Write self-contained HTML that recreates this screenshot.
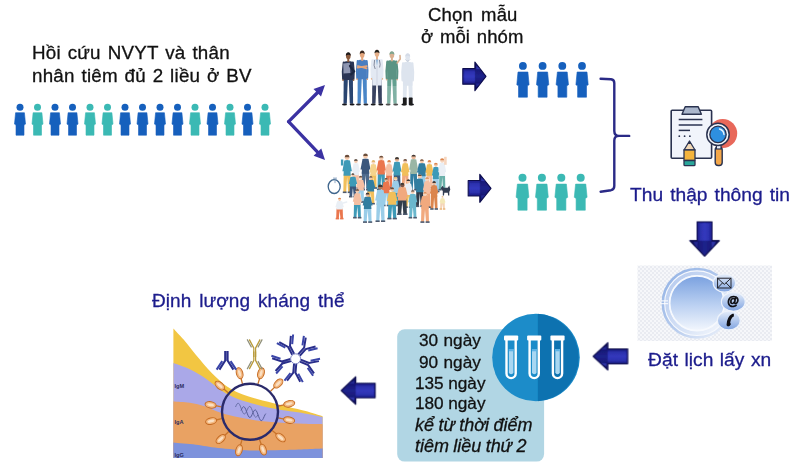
<!DOCTYPE html>
<html lang="vi"><head><meta charset="utf-8"><title>Sơ đồ nghiên cứu</title>
<style>
html,body{margin:0;padding:0;background:#fff;}
body{width:800px;height:464px;position:relative;overflow:hidden;font-family:"Liberation Sans",sans-serif;}
svg{position:absolute;left:0;top:0;}
.t{position:absolute;white-space:nowrap;line-height:1;font-family:"Liberation Sans",sans-serif;will-change:transform;-webkit-text-stroke:0.3px currentColor;filter:blur(0.3px);}
</style></head><body>
<svg width="800" height="464" viewBox="0 0 800 464">
<defs>
<linearGradient id="gaH" x1="0" y1="0" x2="0" y2="1"><stop offset="0" stop-color="#0b0b4c"/><stop offset="0.2" stop-color="#1d1f8c"/><stop offset="0.5" stop-color="#2e33b6"/><stop offset="0.8" stop-color="#1a1c84"/><stop offset="1" stop-color="#090940"/></linearGradient>
<linearGradient id="gaV" x1="0" y1="0" x2="1" y2="0"><stop offset="0" stop-color="#0b0b4c"/><stop offset="0.2" stop-color="#1d1f8c"/><stop offset="0.5" stop-color="#2e33b6"/><stop offset="0.8" stop-color="#1a1c84"/><stop offset="1" stop-color="#090940"/></linearGradient>
<linearGradient id="gBig" x1="0" y1="0" x2="0" y2="1"><stop offset="0" stop-color="#7aa1e0"/><stop offset="0.55" stop-color="#bdd2f2"/><stop offset="1" stop-color="#f2f6fd"/></linearGradient>
<linearGradient id="gRing" x1="0" y1="0" x2="1" y2="1"><stop offset="0" stop-color="#8fb0e4"/><stop offset="0.55" stop-color="#b9cdee"/><stop offset="1" stop-color="#f3f6fc"/></linearGradient>
<linearGradient id="gRing2" x1="0" y1="0" x2="1" y2="1"><stop offset="0" stop-color="#b4c9ee"/><stop offset="0.6" stop-color="#d6e2f6"/><stop offset="1" stop-color="#f7f9fd"/></linearGradient>
<linearGradient id="gSm" x1="0" y1="0" x2="0" y2="1"><stop offset="0" stop-color="#e6eefa"/><stop offset="1" stop-color="#7fa3e0"/></linearGradient>
<pattern id="chk" width="4" height="4" patternUnits="userSpaceOnUse"><rect width="4" height="4" fill="#f6f7fa"/><rect width="2" height="2" fill="#e9ebf1"/><rect x="2" y="2" width="2" height="2" fill="#e9ebf1"/></pattern>
<filter id="soft" x="-10%" y="-10%" width="120%" height="120%"><feGaussianBlur stdDeviation="0.45"/></filter>
<filter id="soft2" x="-10%" y="-10%" width="120%" height="120%"><feGaussianBlur stdDeviation="0.7"/></filter>
</defs>
<g filter="url(#soft)">
<circle cx="20.0" cy="107.2" r="3.5" fill="#1560bd"/><polygon points="15.6,112.7 24.4,112.7 25.5,124.1 24.0,125.0 24.0,135.2 16.0,135.2 16.0,125.0 14.5,124.1" fill="#1560bd" stroke="#1560bd" stroke-width="0.6" stroke-linejoin="round"/>
<circle cx="37.5" cy="107.2" r="3.5" fill="#3bb9b4"/><polygon points="33.1,112.7 41.9,112.7 43.0,124.1 41.5,125.0 41.5,135.2 33.5,135.2 33.5,125.0 32.0,124.1" fill="#3bb9b4" stroke="#3bb9b4" stroke-width="0.6" stroke-linejoin="round"/>
<circle cx="55.0" cy="107.2" r="3.5" fill="#1560bd"/><polygon points="50.6,112.7 59.4,112.7 60.5,124.1 59.0,125.0 59.0,135.2 51.0,135.2 51.0,125.0 49.5,124.1" fill="#1560bd" stroke="#1560bd" stroke-width="0.6" stroke-linejoin="round"/>
<circle cx="72.5" cy="107.2" r="3.5" fill="#1560bd"/><polygon points="68.1,112.7 76.9,112.7 78.0,124.1 76.5,125.0 76.5,135.2 68.5,135.2 68.5,125.0 67.0,124.1" fill="#1560bd" stroke="#1560bd" stroke-width="0.6" stroke-linejoin="round"/>
<circle cx="90.0" cy="107.2" r="3.5" fill="#3bb9b4"/><polygon points="85.6,112.7 94.4,112.7 95.5,124.1 94.0,125.0 94.0,135.2 86.0,135.2 86.0,125.0 84.5,124.1" fill="#3bb9b4" stroke="#3bb9b4" stroke-width="0.6" stroke-linejoin="round"/>
<circle cx="107.5" cy="107.2" r="3.5" fill="#3bb9b4"/><polygon points="103.1,112.7 111.9,112.7 113.0,124.1 111.5,125.0 111.5,135.2 103.5,135.2 103.5,125.0 102.0,124.1" fill="#3bb9b4" stroke="#3bb9b4" stroke-width="0.6" stroke-linejoin="round"/>
<circle cx="125.0" cy="107.2" r="3.5" fill="#1560bd"/><polygon points="120.6,112.7 129.4,112.7 130.5,124.1 129.0,125.0 129.0,135.2 121.0,135.2 121.0,125.0 119.5,124.1" fill="#1560bd" stroke="#1560bd" stroke-width="0.6" stroke-linejoin="round"/>
<circle cx="142.5" cy="107.2" r="3.5" fill="#1560bd"/><polygon points="138.1,112.7 146.9,112.7 148.0,124.1 146.5,125.0 146.5,135.2 138.5,135.2 138.5,125.0 137.0,124.1" fill="#1560bd" stroke="#1560bd" stroke-width="0.6" stroke-linejoin="round"/>
<circle cx="160.0" cy="107.2" r="3.5" fill="#1560bd"/><polygon points="155.6,112.7 164.4,112.7 165.5,124.1 164.0,125.0 164.0,135.2 156.0,135.2 156.0,125.0 154.5,124.1" fill="#1560bd" stroke="#1560bd" stroke-width="0.6" stroke-linejoin="round"/>
<circle cx="177.5" cy="107.2" r="3.5" fill="#1560bd"/><polygon points="173.1,112.7 181.9,112.7 183.0,124.1 181.5,125.0 181.5,135.2 173.5,135.2 173.5,125.0 172.0,124.1" fill="#1560bd" stroke="#1560bd" stroke-width="0.6" stroke-linejoin="round"/>
<circle cx="195.0" cy="107.2" r="3.5" fill="#3bb9b4"/><polygon points="190.6,112.7 199.4,112.7 200.5,124.1 199.0,125.0 199.0,135.2 191.0,135.2 191.0,125.0 189.5,124.1" fill="#3bb9b4" stroke="#3bb9b4" stroke-width="0.6" stroke-linejoin="round"/>
<circle cx="212.5" cy="107.2" r="3.5" fill="#1560bd"/><polygon points="208.1,112.7 216.9,112.7 218.0,124.1 216.5,125.0 216.5,135.2 208.5,135.2 208.5,125.0 207.0,124.1" fill="#1560bd" stroke="#1560bd" stroke-width="0.6" stroke-linejoin="round"/>
<circle cx="230.0" cy="107.2" r="3.5" fill="#3bb9b4"/><polygon points="225.6,112.7 234.4,112.7 235.5,124.1 234.0,125.0 234.0,135.2 226.0,135.2 226.0,125.0 224.5,124.1" fill="#3bb9b4" stroke="#3bb9b4" stroke-width="0.6" stroke-linejoin="round"/>
<circle cx="247.5" cy="107.2" r="3.5" fill="#1560bd"/><polygon points="243.1,112.7 251.9,112.7 253.0,124.1 251.5,125.0 251.5,135.2 243.5,135.2 243.5,125.0 242.0,124.1" fill="#1560bd" stroke="#1560bd" stroke-width="0.6" stroke-linejoin="round"/>
<circle cx="265.0" cy="107.2" r="3.5" fill="#3bb9b4"/><polygon points="260.6,112.7 269.4,112.7 270.5,124.1 269.0,125.0 269.0,135.2 261.0,135.2 261.0,125.0 259.5,124.1" fill="#3bb9b4" stroke="#3bb9b4" stroke-width="0.6" stroke-linejoin="round"/>
<circle cx="522.9" cy="65.9" r="3.9" fill="#1560bd"/><polygon points="518.0,72.0 527.9,72.0 529.1,84.8 527.4,85.8 527.4,97.2 518.5,97.2 518.5,85.8 516.8,84.8" fill="#1560bd" stroke="#1560bd" stroke-width="0.6" stroke-linejoin="round"/>
<circle cx="542.6" cy="65.9" r="3.9" fill="#1560bd"/><polygon points="537.7,72.0 547.6,72.0 548.8,84.8 547.1,85.8 547.1,97.2 538.2,97.2 538.2,85.8 536.5,84.8" fill="#1560bd" stroke="#1560bd" stroke-width="0.6" stroke-linejoin="round"/>
<circle cx="562.3" cy="65.9" r="3.9" fill="#1560bd"/><polygon points="557.4,72.0 567.2,72.0 568.5,84.8 566.8,85.8 566.8,97.2 557.9,97.2 557.9,85.8 556.1,84.8" fill="#1560bd" stroke="#1560bd" stroke-width="0.6" stroke-linejoin="round"/>
<circle cx="582.0" cy="65.9" r="3.9" fill="#1560bd"/><polygon points="577.1,72.0 587.0,72.0 588.2,84.8 586.5,85.8 586.5,97.2 577.6,97.2 577.6,85.8 575.9,84.8" fill="#1560bd" stroke="#1560bd" stroke-width="0.6" stroke-linejoin="round"/>
<circle cx="522.5" cy="177.7" r="4.0" fill="#3bb9b4"/><polygon points="517.4,184.1 527.6,184.1 528.9,197.3 527.1,198.4 527.1,210.2 517.9,210.2 517.9,198.4 516.1,197.3" fill="#3bb9b4" stroke="#3bb9b4" stroke-width="0.6" stroke-linejoin="round"/>
<circle cx="541.9" cy="177.7" r="4.0" fill="#3bb9b4"/><polygon points="536.8,184.1 547.0,184.1 548.3,197.3 546.5,198.4 546.5,210.2 537.3,210.2 537.3,198.4 535.5,197.3" fill="#3bb9b4" stroke="#3bb9b4" stroke-width="0.6" stroke-linejoin="round"/>
<circle cx="561.3" cy="177.7" r="4.0" fill="#3bb9b4"/><polygon points="556.2,184.1 566.4,184.1 567.7,197.3 565.9,198.4 565.9,210.2 556.7,210.2 556.7,198.4 554.9,197.3" fill="#3bb9b4" stroke="#3bb9b4" stroke-width="0.6" stroke-linejoin="round"/>
<circle cx="580.7" cy="177.7" r="4.0" fill="#3bb9b4"/><polygon points="575.6,184.1 585.8,184.1 587.1,197.3 585.3,198.4 585.3,210.2 576.1,210.2 576.1,198.4 574.3,197.3" fill="#3bb9b4" stroke="#3bb9b4" stroke-width="0.6" stroke-linejoin="round"/>
</g>
<g filter="url(#soft)">
<line x1="288.6" y1="121.7" x2="320.1" y2="90.0" stroke="#3a30a2" stroke-width="3.3" stroke-linecap="round"/>
<polygon points="325.0,85.0 321.0,96.5 313.5,89.1" fill="#3a30a2"/>
<line x1="288.6" y1="121.7" x2="320.2" y2="154.9" stroke="#3a30a2" stroke-width="3.3" stroke-linecap="round"/>
<polygon points="325.0,160.0 313.6,155.7 321.3,148.4" fill="#3a30a2"/>
</g>
<g filter="url(#soft)">
<g transform="translate(462.8,76.4) rotate(0)"><polygon points="0,-7.75 12.1,-7.75 12.1,-14.3 23.2,0 12.1,14.3 12.1,7.75 0,7.75" fill="url(#gaH)" stroke="#10104e" stroke-width="1.1" stroke-linejoin="round"/><rect x="1.8" y="-5.2" width="11.1" height="10.3" fill="#3c44cc" opacity="0.35"/><polygon points="12.1,-14.3 23.2,0 12.1,14.3" fill="#0c0c50" opacity="0.42"/><polygon points="13.5,-10.9 17.6,-7.2 13.5,-7.2" fill="#4a54dc" opacity="0.5"/><polygon points="13.5,10.9 17.6,7.2 13.5,7.2" fill="#3a42c4" opacity="0.4"/></g>
<g transform="translate(468.2,188.3) rotate(0)"><polygon points="0,-7.75 11.600000000000001,-7.75 11.600000000000001,-14.05 22.8,0 11.600000000000001,14.05 11.600000000000001,7.75 0,7.75" fill="url(#gaH)" stroke="#10104e" stroke-width="1.1" stroke-linejoin="round"/><rect x="1.8" y="-5.2" width="10.6" height="10.3" fill="#3c44cc" opacity="0.35"/><polygon points="11.600000000000001,-14.05 22.8,0 11.600000000000001,14.05" fill="#0c0c50" opacity="0.42"/><polygon points="13.0,-10.7 17.2,-7.0 13.0,-7.2" fill="#4a54dc" opacity="0.5"/><polygon points="13.0,10.7 17.2,7.0 13.0,7.2" fill="#3a42c4" opacity="0.4"/></g>
<g transform="translate(704.6,221.9) rotate(90)"><polygon points="0,-7.45 18.699999999999996,-7.45 18.699999999999996,-14.75 34.3,0 18.699999999999996,14.75 18.699999999999996,7.45 0,7.45" fill="url(#gaH)" stroke="#10104e" stroke-width="1.1" stroke-linejoin="round"/><rect x="1.8" y="-4.8" width="17.7" height="9.7" fill="#3c44cc" opacity="0.35"/><polygon points="18.699999999999996,-14.75 34.3,0 18.699999999999996,14.75" fill="#0c0c50" opacity="0.42"/><polygon points="20.1,-11.3 26.5,-7.4 20.1,-7.0" fill="#4a54dc" opacity="0.5"/><polygon points="20.1,11.3 26.5,7.4 20.1,7.0" fill="#3a42c4" opacity="0.4"/></g>
<g transform="translate(627.7,356.4) rotate(180)"><polygon points="0,-7.4 19.9,-7.4 19.9,-13.65 34.5,0 19.9,13.65 19.9,7.4 0,7.4" fill="url(#gaH)" stroke="#10104e" stroke-width="1.1" stroke-linejoin="round"/><rect x="1.8" y="-4.8" width="18.9" height="9.6" fill="#3c44cc" opacity="0.35"/><polygon points="19.9,-13.65 34.5,0 19.9,13.65" fill="#0c0c50" opacity="0.42"/><polygon points="21.3,-10.2 27.2,-6.8 21.3,-6.9" fill="#4a54dc" opacity="0.5"/><polygon points="21.3,10.2 27.2,6.8 21.3,6.9" fill="#3a42c4" opacity="0.4"/></g>
<g transform="translate(375.2,390.6) rotate(180)"><polygon points="0,-7.3 19.4,-7.3 19.4,-13.75 34.0,0 19.4,13.75 19.4,7.3 0,7.3" fill="url(#gaH)" stroke="#10104e" stroke-width="1.1" stroke-linejoin="round"/><rect x="1.8" y="-4.7" width="18.4" height="9.4" fill="#3c44cc" opacity="0.35"/><polygon points="19.4,-13.75 34.0,0 19.4,13.75" fill="#0c0c50" opacity="0.42"/><polygon points="20.8,-10.3 26.7,-6.9 20.8,-6.8" fill="#4a54dc" opacity="0.5"/><polygon points="20.8,10.3 26.7,6.9 20.8,6.8" fill="#3a42c4" opacity="0.4"/></g>
</g>
<path filter="url(#soft)" d="M600.6,78.8 L611,79.2 Q614.3,79.6 614.3,83 L614.3,131 Q614.3,135.9 619,135.9 L629.2,135.9 L619,135.9 Q614.3,135.9 614.3,140.5 L614.3,186 Q614.3,189.5 611,190.2 L600.6,191.7" fill="none" stroke="#2b2a86" stroke-width="2.4" stroke-linecap="round" stroke-linejoin="round"/>
<g filter="url(#soft2)">
<polygon points="347.9,78.0 343.7,78.0 343.5,103.8 346.8,103.8" fill="#2b4470"/><ellipse cx="344.5" cy="104.5" rx="2.5" ry="1.0" fill="#15151a"/><polygon points="348.7,78.0 352.9,78.0 353.1,103.8 349.8,103.8" fill="#2b4470"/><ellipse cx="352.1" cy="104.5" rx="2.5" ry="1.0" fill="#15151a"/><path d="M343.7,62.4 L342.8,71.6 L343.1,79.0" stroke="#2b3654" stroke-width="2.0" fill="none" stroke-linecap="round" stroke-linejoin="round"/><circle cx="343.1" cy="80.1" r="0.9" fill="#8a5a3c"/><path d="M352.9,62.4 L353.8,71.6 L353.5,79.0" stroke="#2b3654" stroke-width="2.0" fill="none" stroke-linecap="round" stroke-linejoin="round"/><circle cx="353.5" cy="80.1" r="0.9" fill="#8a5a3c"/><path d="M343.2,63.1 Q343.2,61.6 346.0,61.2 L350.6,61.2 Q353.4,61.6 353.4,63.1 L352.9,80.0 L343.7,80.0 Z" fill="#2b3654"/><rect x="347.3" y="57.9" width="2.0" height="4.2" fill="#8a5a3c"/><ellipse cx="348.3" cy="56.0" rx="2.3" ry="3.3" fill="#8a5a3c"/><path d="M345.8,55.8 Q345.9,52.4 348.3,52.3 Q350.7,52.4 350.8,55.8 Q348.3,53.7 345.8,55.8 Z" fill="#1e1a1a"/>
<path d="M343.2,63.5 L349.8,62.8 L350.4,73 L343.6,73.6 Z" fill="#8e96b2"/>
<path d="M350,66 L354,71.5 L351,74.5" stroke="#1e2740" stroke-width="2.2" fill="none" stroke-linecap="round"/>
<polygon points="361.8,77.2 357.7,77.2 357.5,103.8 360.7,103.8" fill="#4a86c8"/><ellipse cx="358.5" cy="104.5" rx="2.5" ry="1.0" fill="#2a2a30"/><polygon points="362.6,77.2 366.7,77.2 366.9,103.8 363.7,103.8" fill="#4a86c8"/><ellipse cx="365.9" cy="104.5" rx="2.5" ry="1.0" fill="#2a2a30"/><path d="M357.7,61.0 L356.9,70.5 L357.2,78.2" stroke="#4a7ec0" stroke-width="2.0" fill="none" stroke-linecap="round" stroke-linejoin="round"/><circle cx="357.2" cy="79.2" r="0.9" fill="#e3a57c"/><path d="M366.7,61.0 L367.5,70.5 L367.2,78.2" stroke="#4a7ec0" stroke-width="2.0" fill="none" stroke-linecap="round" stroke-linejoin="round"/><circle cx="367.2" cy="79.2" r="0.9" fill="#e3a57c"/><path d="M357.3,61.7 Q357.3,60.2 360.0,59.8 L364.4,59.8 Q367.1,60.2 367.1,61.7 L366.7,79.2 L357.7,79.2 Z" fill="#4a7ec0"/><rect x="361.2" y="56.4" width="2.0" height="4.4" fill="#e3a57c"/><ellipse cx="362.2" cy="54.4" rx="2.3" ry="3.4" fill="#e3a57c"/><path d="M359.7,54.2 Q359.8,50.7 362.2,50.6 Q364.6,50.7 364.7,54.2 Q362.2,52.0 359.7,54.2 Z" fill="#3a2a22"/>
<path d="M357.6,67.6 L366.8,66.2 M357.8,66.0 L366.6,68.4" stroke="#e3a57c" stroke-width="1.7" stroke-linecap="round"/>
<polygon points="376.6,76.7 372.3,76.7 372.1,103.8 375.5,103.8" fill="#394360"/><ellipse cx="373.2" cy="104.5" rx="2.5" ry="1.0" fill="#1a1a1f"/><polygon points="377.4,76.7 381.7,76.7 381.9,103.8 378.5,103.8" fill="#394360"/><ellipse cx="380.8" cy="104.5" rx="2.5" ry="1.0" fill="#1a1a1f"/><path d="M372.3,60.2 L371.5,69.9 L371.7,77.7" stroke="#e3e9f3" stroke-width="2.0" fill="none" stroke-linecap="round" stroke-linejoin="round"/><circle cx="371.7" cy="78.8" r="0.9" fill="#e5b08a"/><path d="M381.7,60.2 L382.5,69.9 L382.3,77.7" stroke="#e3e9f3" stroke-width="2.0" fill="none" stroke-linecap="round" stroke-linejoin="round"/><circle cx="382.3" cy="78.8" r="0.9" fill="#e5b08a"/><path d="M371.8,60.9 Q371.8,59.4 374.6,59.0 L379.4,59.0 Q382.2,59.4 382.2,60.9 L381.7,85.5 L372.3,85.5 Z" fill="#e3e9f3"/><rect x="376.0" y="55.5" width="2.0" height="4.4" fill="#e5b08a"/><ellipse cx="377.0" cy="53.6" rx="2.3" ry="3.4" fill="#e5b08a"/><path d="M374.5,53.3 Q374.6,49.8 377.0,49.7 Q379.4,49.8 379.5,53.3 Q377.0,51.1 374.5,53.3 Z" fill="#23201e"/>
<path d="M375.9,59.5 L377,66 L378.1,59.5 Z" fill="#8fb4d8"/>
<path d="M374.6,60 Q373.2,66 375.2,69 M379.4,60 Q380.8,65 379.6,67.5" stroke="#5a6278" stroke-width="0.7" fill="none"/>
<path d="M377,66 L377,85" stroke="#c4ccda" stroke-width="0.7"/>
<polygon points="391.5,77.5 387.3,77.5 387.1,103.8 390.4,103.8" fill="#64a090"/><ellipse cx="388.1" cy="104.5" rx="2.5" ry="1.0" fill="#2a2a2a"/><polygon points="392.2,77.5 396.5,77.5 396.7,103.8 393.4,103.8" fill="#64a090"/><ellipse cx="395.7" cy="104.5" rx="2.5" ry="1.0" fill="#2a2a2a"/><path d="M387.3,61.5 L386.4,71.0 L386.7,78.5" stroke="#5a9484" stroke-width="2.0" fill="none" stroke-linecap="round" stroke-linejoin="round"/><circle cx="386.7" cy="79.6" r="0.9" fill="#d9b090"/><path d="M396.5,61.5 L397.4,71.0 L397.1,78.5" stroke="#5a9484" stroke-width="2.0" fill="none" stroke-linecap="round" stroke-linejoin="round"/><circle cx="397.1" cy="79.6" r="0.9" fill="#d9b090"/><path d="M386.8,62.2 Q386.8,60.7 389.6,60.3 L394.2,60.3 Q397.0,60.7 397.0,62.2 L396.5,79.5 L387.3,79.5 Z" fill="#5a9484"/><rect x="390.9" y="57.0" width="2.0" height="4.3" fill="#d9b090"/><ellipse cx="391.9" cy="55.1" rx="2.3" ry="3.3" fill="#d9b090"/><path d="M389.4,54.8 Q389.5,51.4 391.9,51.3 Q394.3,51.4 394.4,54.8 Q391.9,52.7 389.4,54.8 Z" fill="#7fa58f"/>
<path d="M397.2,63 L400.2,59 L400.0,55.5" stroke="#d9b090" stroke-width="1.6" fill="none" stroke-linecap="round"/>
<rect x="385.4" y="86" width="13" height="19.4" fill="#fff" opacity="0.18"/>
<polygon points="407.3,78.5 403.0,78.5 402.8,103.8 406.2,103.8" fill="#dfe6ef"/><ellipse cx="403.9" cy="104.5" rx="2.5" ry="1.0" fill="#15151a"/><polygon points="408.1,78.5 412.4,78.5 412.6,103.8 409.2,103.8" fill="#dfe6ef"/><ellipse cx="411.5" cy="104.5" rx="2.5" ry="1.0" fill="#15151a"/><path d="M403.0,63.2 L402.2,72.2 L402.4,79.5" stroke="#dde4ee" stroke-width="2.0" fill="none" stroke-linecap="round" stroke-linejoin="round"/><circle cx="402.4" cy="80.5" r="0.9" fill="#dfe5ee"/><path d="M412.4,63.2 L413.2,72.2 L413.0,79.5" stroke="#dde4ee" stroke-width="2.0" fill="none" stroke-linecap="round" stroke-linejoin="round"/><circle cx="413.0" cy="80.5" r="0.9" fill="#dfe5ee"/><path d="M402.5,63.9 Q402.5,62.4 405.3,62.0 L410.1,62.0 Q412.9,62.4 412.9,63.9 L412.4,85.7 L403.0,85.7 Z" fill="#dde4ee"/><rect x="406.7" y="58.8" width="2.0" height="4.1" fill="#dfe5ee"/><ellipse cx="407.7" cy="57.0" rx="2.3" ry="3.2" fill="#dfe5ee"/><path d="M405.2,56.7 Q405.3,53.4 407.7,53.3 Q410.1,53.4 410.2,56.7 Q407.7,54.6 405.2,56.7 Z" fill="#d5dce8"/>
<rect x="402.9" y="97.6" width="3.8" height="7.6" rx="0.6" fill="#1a1a1e"/><rect x="408.8" y="97.6" width="3.8" height="7.6" rx="0.6" fill="#1a1a1e"/>
<path d="M405.4,59.4 Q407.7,62.8 410,59.4" stroke="#b9c2d0" stroke-width="0.8" fill="none"/>
</g>
<g filter="url(#soft2)" opacity="0.9">
<ellipse cx="334.2" cy="186.6" rx="6.0" ry="6.9" fill="#fff" stroke="#2a5580" stroke-width="1.3"/>
<path d="M333.0,178.1 l4,0 M335.0,178.1 l0,5" stroke="#6a8ab0" stroke-width="0.8"/>
<path d="M343.7,173.9 L343.3,192.1 L346.2,192.1 L347.1,177.0 L348.1,192.1 L350.9,192.1 L350.5,173.9 Z" fill="#f0b848"/><rect x="342.8" y="191.5" width="3.8" height="1.6" fill="#3a4a60"/><rect x="347.7" y="191.5" width="3.8" height="1.6" fill="#3a4a60"/><path d="M344.3,160.4 Q347.1,159.4 350.0,160.4 L351.9,171.2 L350.5,171.2 L350.7,175.8 L343.5,175.8 L343.7,171.2 L342.4,171.2 Z" fill="#2a8fb0"/><circle cx="347.1" cy="157.6" r="2.4" fill="#f2c4a4"/><path d="M344.7,157.2 A2.4,2.4 0 0 1 349.5,157.2 Z" fill="#5a3a28"/>
<path d="M353.0,173.7 L352.7,187.8 L355.1,187.8 L355.9,176.1 L356.7,187.8 L359.1,187.8 L358.8,173.7 Z" fill="#f4b898"/><rect x="352.2" y="187.2" width="3.2" height="1.6" fill="#3a4a60"/><rect x="356.4" y="187.2" width="3.2" height="1.6" fill="#3a4a60"/><path d="M353.5,163.4 Q355.9,162.4 358.3,163.4 L359.9,171.8 L358.8,171.8 L358.9,175.2 L352.8,175.2 L353.0,171.8 L351.9,171.8 Z" fill="#e8eef4"/><circle cx="355.9" cy="161.1" r="1.9" fill="#f2c4a4"/><path d="M354.0,160.7 A1.9,1.9 0 0 1 357.7,160.7 Z" fill="#2a2420"/>
<path d="M361.9,172.0 L361.5,189.5 L364.5,189.5 L365.5,174.9 L366.5,189.5 L369.5,189.5 L369.1,172.0 Z" fill="#3a5a80"/><rect x="360.9" y="188.9" width="4.0" height="1.6" fill="#3a4a60"/><rect x="366.1" y="188.9" width="4.0" height="1.6" fill="#3a4a60"/><path d="M362.5,159.0 Q365.5,158.0 368.5,159.0 L370.5,169.4 L369.1,169.4 L369.3,173.8 L361.7,173.8 L361.9,169.4 L360.5,169.4 Z" fill="#26456e"/><circle cx="365.5" cy="156.3" r="2.3" fill="#f2c4a4"/><path d="M363.2,155.9 A2.3,2.3 0 0 1 367.8,155.9 Z" fill="#5a3a28"/>
<path d="M370.5,174.3 L370.2,187.8 L372.6,187.8 L373.4,176.6 L374.2,187.8 L376.6,187.8 L376.3,174.3 Z" fill="#f0b848"/><rect x="369.7" y="187.2" width="3.2" height="1.6" fill="#3a4a60"/><rect x="373.9" y="187.2" width="3.2" height="1.6" fill="#3a4a60"/><path d="M371.0,164.5 Q373.4,163.5 375.8,164.5 L377.4,172.5 L376.3,172.5 L376.4,175.8 L370.3,175.8 L370.5,172.5 L369.4,172.5 Z" fill="#f4cf80"/><circle cx="373.4" cy="162.3" r="1.8" fill="#f5d2b8"/><path d="M371.6,161.9 A1.8,1.8 0 0 1 375.2,161.9 Z" fill="#e0b060"/>
<path d="M377.8,172.8 L377.5,189.5 L380.3,189.5 L381.3,175.7 L382.2,189.5 L385.1,189.5 L384.7,172.8 Z" fill="#2a8fb0"/><rect x="376.9" y="188.9" width="3.8" height="1.6" fill="#3a4a60"/><rect x="381.8" y="188.9" width="3.8" height="1.6" fill="#3a4a60"/><path d="M378.4,160.5 Q381.3,159.5 384.1,160.5 L386.0,170.4 L384.7,170.4 L384.9,174.6 L377.6,174.6 L377.8,170.4 L376.5,170.4 Z" fill="#e8683a"/><circle cx="381.3" cy="157.9" r="2.2" fill="#f2c4a4"/><path d="M379.1,157.5 A2.2,2.2 0 0 1 383.4,157.5 Z" fill="#5a3a28"/>
<path d="M386.2,174.3 L385.9,187.8 L388.3,187.8 L389.1,176.6 L389.9,187.8 L392.3,187.8 L392.0,174.3 Z" fill="#e8683a"/><rect x="385.4" y="187.2" width="3.2" height="1.6" fill="#3a4a60"/><rect x="389.6" y="187.2" width="3.2" height="1.6" fill="#3a4a60"/><path d="M386.7,164.5 Q389.1,163.5 391.5,164.5 L393.1,172.5 L392.0,172.5 L392.2,175.8 L386.1,175.8 L386.2,172.5 L385.1,172.5 Z" fill="#f4b898"/><circle cx="389.1" cy="162.3" r="1.8" fill="#f5d2b8"/><path d="M387.3,161.9 A1.8,1.8 0 0 1 390.9,161.9 Z" fill="#d8783a"/>
<path d="M393.8,173.7 L393.4,189.5 L396.1,189.5 L397.0,176.4 L397.9,189.5 L400.6,189.5 L400.2,173.7 Z" fill="#26456e"/><rect x="392.9" y="188.9" width="3.6" height="1.6" fill="#3a4a60"/><rect x="397.5" y="188.9" width="3.6" height="1.6" fill="#3a4a60"/><path d="M394.3,162.1 Q397.0,161.1 399.7,162.1 L401.5,171.5 L400.2,171.5 L400.4,175.4 L393.6,175.4 L393.8,171.5 L392.5,171.5 Z" fill="#2a8fb0"/><circle cx="397.0" cy="159.6" r="2.1" fill="#e8b08c"/><path d="M394.9,159.2 A2.1,2.1 0 0 1 399.1,159.2 Z" fill="#2a2420"/>
<path d="M402.2,174.1 L401.8,188.6 L404.4,188.6 L405.2,176.6 L406.1,188.6 L408.6,188.6 L408.3,174.1 Z" fill="#f0a070"/><rect x="401.3" y="188.0" width="3.4" height="1.6" fill="#3a4a60"/><rect x="405.7" y="188.0" width="3.4" height="1.6" fill="#3a4a60"/><path d="M402.7,163.5 Q405.2,162.5 407.8,163.5 L409.5,172.2 L408.3,172.2 L408.5,175.7 L402.0,175.7 L402.2,172.2 L401.0,172.2 Z" fill="#f0b848"/><circle cx="405.2" cy="161.2" r="1.9" fill="#f2c4a4"/><path d="M403.3,160.8 A1.9,1.9 0 0 1 407.1,160.8 Z" fill="#5a3a28"/>
<path d="M410.4,172.3 L410.0,189.5 L412.7,189.5 L413.6,175.2 L414.5,189.5 L417.2,189.5 L416.9,172.3 Z" fill="#1f6f96"/><rect x="409.5" y="188.9" width="3.6" height="1.6" fill="#3a4a60"/><rect x="414.2" y="188.9" width="3.6" height="1.6" fill="#3a4a60"/><path d="M410.9,159.6 Q413.6,158.6 416.3,159.6 L418.1,169.8 L416.9,169.8 L417.0,174.1 L410.2,174.1 L410.4,169.8 L409.1,169.8 Z" fill="#8fae9c"/><circle cx="413.6" cy="157.0" r="2.3" fill="#e8b08c"/><path d="M411.4,156.6 A2.3,2.3 0 0 1 415.9,156.6 Z" fill="#2a2420"/>
<path d="M418.3,174.6 L417.9,189.5 L420.9,189.5 L421.9,177.1 L422.9,189.5 L425.9,189.5 L425.5,174.6 Z" fill="#8fc8e6"/><rect x="417.3" y="188.9" width="4.0" height="1.6" fill="#3a4a60"/><rect x="422.5" y="188.9" width="4.0" height="1.6" fill="#3a4a60"/><path d="M418.9,163.6 Q421.9,162.6 424.9,163.6 L426.9,172.5 L425.5,172.5 L425.7,176.2 L418.1,176.2 L418.3,172.5 L416.9,172.5 Z" fill="#1f6f96"/><circle cx="421.9" cy="161.2" r="2.0" fill="#f2c4a4"/><path d="M419.9,160.8 A2.0,2.0 0 0 1 423.8,160.8 Z" fill="#5a3a28"/>
<path d="M426.5,174.3 L426.2,187.8 L428.6,187.8 L429.4,176.6 L430.2,187.8 L432.6,187.8 L432.3,174.3 Z" fill="#f4b898"/><rect x="425.7" y="187.2" width="3.2" height="1.6" fill="#3a4a60"/><rect x="429.9" y="187.2" width="3.2" height="1.6" fill="#3a4a60"/><path d="M427.0,164.5 Q429.4,163.5 431.8,164.5 L433.4,172.5 L432.3,172.5 L432.4,175.8 L426.3,175.8 L426.5,172.5 L425.4,172.5 Z" fill="#f0b848"/><circle cx="429.4" cy="162.3" r="1.8" fill="#f5d2b8"/><path d="M427.6,161.9 A1.8,1.8 0 0 1 431.2,161.9 Z" fill="#d8783a"/>
<path d="M433.0,177.4 L432.7,191.3 L435.1,191.3 L435.9,179.8 L436.7,191.3 L439.1,191.3 L438.7,177.4 Z" fill="#8fc8e6"/><rect x="432.2" y="190.7" width="3.2" height="1.6" fill="#3a4a60"/><rect x="436.3" y="190.7" width="3.2" height="1.6" fill="#3a4a60"/><path d="M433.5,167.2 Q435.9,166.2 438.3,167.2 L439.9,175.5 L438.7,175.5 L438.9,178.9 L432.8,178.9 L433.0,175.5 L431.9,175.5 Z" fill="#2a8fb0"/><circle cx="435.9" cy="164.9" r="1.8" fill="#f2c4a4"/><path d="M434.0,164.5 A1.8,1.8 0 0 1 437.7,164.5 Z" fill="#d8783a"/>
<path d="M439.3,174.3 L439.0,189.5 L441.4,189.5 L442.2,176.9 L443.0,189.5 L445.4,189.5 L445.0,174.3 Z" fill="#5aa8a0"/><rect x="438.5" y="188.9" width="3.2" height="1.6" fill="#3a4a60"/><rect x="442.6" y="188.9" width="3.2" height="1.6" fill="#3a4a60"/><path d="M439.8,163.1 Q442.2,162.1 444.6,163.1 L446.2,172.2 L445.0,172.2 L445.2,175.9 L439.1,175.9 L439.3,172.2 L438.2,172.2 Z" fill="#e8eef4"/><circle cx="442.2" cy="160.7" r="2.0" fill="#f5d2b8"/><path d="M440.1,160.3 A2.0,2.0 0 0 1 444.2,160.3 Z" fill="#d8783a"/>
<path d="M349.8,185.3 L349.5,196.5 L352.1,196.5 L352.9,187.2 L353.8,196.5 L356.3,196.5 L356.0,185.3 Z" fill="#26456e"/><rect x="349.0" y="195.9" width="3.4" height="1.6" fill="#3a4a60"/><rect x="353.4" y="195.9" width="3.4" height="1.6" fill="#3a4a60"/><path d="M350.4,177.0 Q352.9,176.0 355.5,177.0 L357.2,183.9 L356.0,183.9 L356.1,186.5 L349.7,186.5 L349.8,183.9 L348.7,183.9 Z" fill="#2a8fb0"/><circle cx="352.9" cy="175.1" r="1.5" fill="#f2c4a4"/><path d="M351.4,174.7 A1.5,1.5 0 0 1 354.4,174.7 Z" fill="#2a2420"/>
<path d="M357.5,189.2 L357.2,201.8 L359.8,201.8 L360.6,191.4 L361.5,201.8 L364.0,201.8 L363.7,189.2 Z" fill="#8fc8e6"/><rect x="356.7" y="201.2" width="3.4" height="1.6" fill="#3a4a60"/><rect x="361.1" y="201.2" width="3.4" height="1.6" fill="#3a4a60"/><path d="M358.1,180.0 Q360.6,179.0 363.2,180.0 L364.9,187.6 L363.7,187.6 L363.8,190.5 L357.4,190.5 L357.5,187.6 L356.4,187.6 Z" fill="#f4b898"/><circle cx="360.6" cy="177.9" r="1.7" fill="#f5d2b8"/><path d="M358.9,177.5 A1.7,1.7 0 0 1 362.3,177.5 Z" fill="#5a3a28"/>
<path d="M367.5,190.1 L367.2,203.5 L369.9,203.5 L370.8,192.4 L371.7,203.5 L374.4,203.5 L374.0,190.1 Z" fill="#f0b848"/><rect x="366.6" y="202.9" width="3.6" height="1.6" fill="#3a4a60"/><rect x="371.3" y="202.9" width="3.6" height="1.6" fill="#3a4a60"/><path d="M368.1,180.2 Q370.8,179.2 373.5,180.2 L375.3,188.3 L374.0,188.3 L374.2,191.5 L367.3,191.5 L367.5,188.3 L366.3,188.3 Z" fill="#1f6f96"/><circle cx="370.8" cy="178.0" r="1.8" fill="#f2c4a4"/><path d="M369.0,177.6 A1.8,1.8 0 0 1 372.5,177.6 Z" fill="#2a2420"/>
<path d="M382.9,191.8 L382.6,205.3 L385.3,205.3 L386.2,194.1 L387.1,205.3 L389.8,205.3 L389.4,191.8 Z" fill="#8fc8e6"/><rect x="382.0" y="204.7" width="3.6" height="1.6" fill="#3a4a60"/><rect x="386.7" y="204.7" width="3.6" height="1.6" fill="#3a4a60"/><path d="M383.5,182.0 Q386.2,181.0 388.9,182.0 L390.7,190.0 L389.4,190.0 L389.6,193.3 L382.7,193.3 L382.9,190.0 L381.7,190.0 Z" fill="#e8683a"/><circle cx="386.2" cy="179.8" r="1.8" fill="#e8b08c"/><path d="M384.4,179.4 A1.8,1.8 0 0 1 387.9,179.4 Z" fill="#5a3a28"/>
<path d="M392.4,191.4 L392.0,205.3 L394.7,205.3 L395.6,193.8 L396.5,205.3 L399.2,205.3 L398.8,191.4 Z" fill="#2a8fb0"/><rect x="391.5" y="204.7" width="3.6" height="1.6" fill="#3a4a60"/><rect x="396.1" y="204.7" width="3.6" height="1.6" fill="#3a4a60"/><path d="M392.9,181.2 Q395.6,180.2 398.3,181.2 L400.1,189.5 L398.8,189.5 L399.0,192.9 L392.2,192.9 L392.4,189.5 L391.1,189.5 Z" fill="#8fc8e6"/><circle cx="395.6" cy="178.9" r="1.8" fill="#f5d2b8"/><path d="M393.8,178.5 A1.8,1.8 0 0 1 397.4,178.5 Z" fill="#e0b060"/>
<path d="M405.1,193.6 L404.8,207.0 L407.5,207.0 L408.4,195.9 L409.3,207.0 L412.0,207.0 L411.6,193.6 Z" fill="#f0b848"/><rect x="404.2" y="206.4" width="3.6" height="1.6" fill="#3a4a60"/><rect x="408.9" y="206.4" width="3.6" height="1.6" fill="#3a4a60"/><path d="M405.7,183.7 Q408.4,182.7 411.1,183.7 L412.9,191.8 L411.6,191.8 L411.8,195.0 L405.0,195.0 L405.1,191.8 L403.9,191.8 Z" fill="#e8eef4"/><circle cx="408.4" cy="181.5" r="1.8" fill="#f2c4a4"/><path d="M406.6,181.1 A1.8,1.8 0 0 1 410.2,181.1 Z" fill="#2a2420"/>
<path d="M416.3,190.5 L416.0,206.1 L418.8,206.1 L419.8,193.2 L420.7,206.1 L423.6,206.1 L423.2,190.5 Z" fill="#1e2a38"/><rect x="415.4" y="205.5" width="3.8" height="1.6" fill="#3a4a60"/><rect x="420.3" y="205.5" width="3.8" height="1.6" fill="#3a4a60"/><path d="M416.9,179.0 Q419.8,178.0 422.6,179.0 L424.5,188.3 L423.2,188.3 L423.4,192.2 L416.1,192.2 L416.3,188.3 L415.0,188.3 Z" fill="#1f6f96"/><circle cx="419.8" cy="176.5" r="2.1" fill="#f2c4a4"/><path d="M417.7,176.1 A2.1,2.1 0 0 1 421.8,176.1 Z" fill="#5a3a28"/>
<path d="M424.0,192.3 L423.7,207.0 L426.3,207.0 L427.1,194.8 L428.0,207.0 L430.5,207.0 L430.2,192.3 Z" fill="#f0a070"/><rect x="423.2" y="206.4" width="3.4" height="1.6" fill="#3a4a60"/><rect x="427.6" y="206.4" width="3.4" height="1.6" fill="#3a4a60"/><path d="M424.6,181.4 Q427.1,180.4 429.7,181.4 L431.4,190.2 L430.2,190.2 L430.3,193.8 L423.9,193.8 L424.0,190.2 L422.9,190.2 Z" fill="#f4b898"/><circle cx="427.1" cy="179.1" r="2.0" fill="#f5d2b8"/><path d="M425.2,178.7 A2.0,2.0 0 0 1 429.1,178.7 Z" fill="#d8783a"/>
<path d="M431.0,195.3 L430.7,208.8 L433.3,208.8 L434.1,197.6 L435.0,208.8 L437.5,208.8 L437.2,195.3 Z" fill="#d8783a"/><rect x="430.2" y="208.2" width="3.4" height="1.6" fill="#3a4a60"/><rect x="434.6" y="208.2" width="3.4" height="1.6" fill="#3a4a60"/><path d="M431.6,185.5 Q434.1,184.5 436.7,185.5 L438.4,193.5 L437.2,193.5 L437.3,196.8 L430.9,196.8 L431.0,193.5 L429.9,193.5 Z" fill="#d8783a"/><circle cx="434.1" cy="183.3" r="1.8" fill="#e8b08c"/><path d="M432.3,182.9 A1.8,1.8 0 0 1 435.9,182.9 Z" fill="#2a2420"/>
<path d="M354.0,203.6 L353.7,217.5 L356.4,217.5 L357.3,206.0 L358.2,217.5 L360.9,217.5 L360.5,203.6 Z" fill="#2a8fb0"/><rect x="353.1" y="216.9" width="3.6" height="1.6" fill="#3a4a60"/><rect x="357.8" y="216.9" width="3.6" height="1.6" fill="#3a4a60"/><path d="M354.6,193.4 Q357.3,192.4 360.0,193.4 L361.8,201.8 L360.5,201.8 L360.7,205.1 L353.9,205.1 L354.0,201.8 L352.8,201.8 Z" fill="#f4b898"/><circle cx="357.3" cy="191.2" r="1.8" fill="#f2c4a4"/><path d="M355.4,190.8 A1.8,1.8 0 0 1 359.1,190.8 Z" fill="#5a3a28"/>
<path d="M364.0,207.6 L363.6,221.9 L366.6,221.9 L367.6,210.0 L368.6,221.9 L371.6,221.9 L371.2,207.6 Z" fill="#8fc8e6"/><rect x="363.0" y="221.3" width="4.0" height="1.6" fill="#3a4a60"/><rect x="368.2" y="221.3" width="4.0" height="1.6" fill="#3a4a60"/><path d="M364.6,197.1 Q367.6,196.1 370.6,197.1 L372.6,205.6 L371.2,205.6 L371.4,209.1 L363.8,209.1 L364.0,205.6 L362.6,205.6 Z" fill="#1f6f96"/><circle cx="367.6" cy="194.8" r="1.9" fill="#e8b08c"/><path d="M365.7,194.4 A1.9,1.9 0 0 1 369.5,194.4 Z" fill="#2a2420"/>
<path d="M376.6,203.2 L376.2,221.0 L379.3,221.0 L380.4,206.2 L381.4,221.0 L384.6,221.0 L384.2,203.2 Z" fill="#8fc8e6"/><rect x="375.5" y="220.4" width="4.2" height="1.6" fill="#3a4a60"/><rect x="381.0" y="220.4" width="4.2" height="1.6" fill="#3a4a60"/><path d="M377.2,190.0 Q380.4,189.0 383.5,190.0 L385.6,200.6 L384.2,200.6 L384.4,205.1 L376.4,205.1 L376.6,200.6 L375.1,200.6 Z" fill="#8fc8e6"/><circle cx="380.4" cy="187.3" r="2.3" fill="#a86a48"/><path d="M378.0,186.9 A2.3,2.3 0 0 1 382.7,186.9 Z" fill="#2a2420"/>
<path d="M388.3,203.2 L387.9,218.4 L391.1,218.4 L392.1,205.8 L393.2,218.4 L396.3,218.4 L395.9,203.2 Z" fill="#2a8fb0"/><rect x="387.3" y="217.8" width="4.2" height="1.6" fill="#3a4a60"/><rect x="392.7" y="217.8" width="4.2" height="1.6" fill="#3a4a60"/><path d="M389.0,192.0 Q392.1,191.0 395.3,192.0 L397.4,201.1 L395.9,201.1 L396.1,204.8 L388.1,204.8 L388.3,201.1 L386.9,201.1 Z" fill="#f0b848"/><circle cx="392.1" cy="189.6" r="2.0" fill="#f2c4a4"/><path d="M390.1,189.2 A2.0,2.0 0 0 1 394.1,189.2 Z" fill="#5a3a28"/>
<path d="M398.1,198.8 L397.7,214.0 L401.1,214.0 L402.3,201.4 L403.4,214.0 L406.9,214.0 L406.4,198.8 Z" fill="#1e2a38"/><rect x="397.0" y="213.4" width="4.6" height="1.6" fill="#3a4a60"/><rect x="402.9" y="213.4" width="4.6" height="1.6" fill="#3a4a60"/><path d="M398.8,187.6 Q402.3,186.6 405.7,187.6 L408.0,196.7 L406.4,196.7 L406.6,200.4 L397.9,200.4 L398.1,196.7 L396.5,196.7 Z" fill="#f0a070"/><circle cx="402.3" cy="185.2" r="2.0" fill="#6a4030"/><path d="M400.2,184.8 A2.0,2.0 0 0 1 404.3,184.8 Z" fill="#2a2420"/>
<path d="M409.5,204.1 L409.2,217.5 L411.9,217.5 L412.8,206.4 L413.7,217.5 L416.4,217.5 L416.0,204.1 Z" fill="#5ab0c8"/><rect x="408.6" y="216.9" width="3.6" height="1.6" fill="#3a4a60"/><rect x="413.3" y="216.9" width="3.6" height="1.6" fill="#3a4a60"/><path d="M410.1,194.2 Q412.8,193.2 415.5,194.2 L417.3,202.3 L416.0,202.3 L416.2,205.5 L409.3,205.5 L409.5,202.3 L408.3,202.3 Z" fill="#5ab0c8"/><circle cx="412.8" cy="192.0" r="1.8" fill="#f2c4a4"/><path d="M411.0,191.6 A1.8,1.8 0 0 1 414.5,191.6 Z" fill="#2a2420"/>
<path d="M421.4,207.1 L421.0,221.9 L424.0,221.9 L425.0,209.6 L426.0,221.9 L429.0,221.9 L428.6,207.1 Z" fill="#f0a070"/><rect x="420.4" y="221.3" width="4.0" height="1.6" fill="#3a4a60"/><rect x="425.6" y="221.3" width="4.0" height="1.6" fill="#3a4a60"/><path d="M422.0,196.3 Q425.0,195.3 428.0,196.3 L430.0,205.1 L428.6,205.1 L428.8,208.7 L421.2,208.7 L421.4,205.1 L420.0,205.1 Z" fill="#f0a070"/><circle cx="425.0" cy="193.9" r="2.0" fill="#f5d2b8"/><path d="M423.1,193.5 A2.0,2.0 0 0 1 427.0,193.5 Z" fill="#d8783a"/>
<rect x="340.9" y="159.5" width="2.4" height="6" fill="#2a8fb0"/>
<rect x="444.1" y="156.8" width="2.6" height="8" fill="#f5d2b8"/>
<path d="M336.5,208.4 L336.2,218.4 L338.8,218.4 L339.6,210.2 L340.5,218.4 L343.0,218.4 L342.7,208.4 Z" fill="#e8683a"/><rect x="335.7" y="217.8" width="3.4" height="1.6" fill="#e8683a"/><rect x="340.1" y="217.8" width="3.4" height="1.6" fill="#e8683a"/><path d="M337.1,201.2 Q339.6,200.2 342.2,201.2 L343.9,207.3 L342.7,207.3 L342.8,209.5 L336.4,209.5 L336.5,207.3 L335.4,207.3 Z" fill="#e8eef4"/><circle cx="339.6" cy="199.5" r="1.4" fill="#f2c4a4"/><path d="M338.2,199.1 A1.4,1.4 0 0 1 341.0,199.1 Z" fill="#d8783a"/>
<path d="M341.6,203.5 l5,-1.5" stroke="#e8eef4" stroke-width="1.6" stroke-linecap="round"/>
<path d="M440.6,188.2 l2,-2.4 l1.2,2 l4,0 l1.5,-2.4 l1,4 l-1,2.5 l0,3.6 l-1.2,0 l-0.3,-2.8 l-3.5,0 l-0.3,2.8 l-1.2,0 l0,-4.5 z" fill="#1e2a40"/>
<path d="M440.3,202.8 L440.1,208.8 L441.9,208.8 L442.5,203.9 L443.1,208.8 L444.9,208.8 L444.7,202.8 Z" fill="#f4d0b0"/><rect x="439.7" y="208.2" width="2.4" height="1.6" fill="#e8b070"/><rect x="442.9" y="208.2" width="2.4" height="1.6" fill="#e8b070"/><path d="M440.7,198.5 Q442.5,197.5 444.3,198.5 L445.5,202.4 L444.7,202.4 L444.8,203.5 L440.2,203.5 L440.3,202.4 L439.5,202.4 Z" fill="#f2e6b0"/><circle cx="442.5" cy="197.2" r="0.9" fill="#f5d2b8"/><path d="M441.6,196.8 A0.9,0.9 0 0 1 443.4,196.8 Z" fill="#e0b060"/>
</g>
<g filter="url(#soft)">
<circle cx="722.7" cy="133.6" r="14.5" fill="#e8675a"/>
<rect x="671.2" y="110.2" width="40.4" height="48" rx="1" fill="#f1f4fb" stroke="#2a3350" stroke-width="1.6"/>
<polygon points="682,114.2 685.2,106.8 698.2,106.8 701.4,114.2" fill="#aab6cc" stroke="#2a3350" stroke-width="1.4" stroke-linejoin="round"/>
<line x1="678.7" y1="119.5" x2="702.4" y2="119.5" stroke="#2a3350" stroke-width="1.5"/>
<line x1="678.7" y1="125" x2="702.4" y2="125" stroke="#2a3350" stroke-width="1.5"/>
<line x1="678.7" y1="130.4" x2="690" y2="130.4" stroke="#2a3350" stroke-width="1.5"/>
<circle cx="679.3" cy="136.2" r="0.9" fill="#2a3350"/>
<circle cx="684.6" cy="136.2" r="0.9" fill="#2a3350"/>
<circle cx="689.9" cy="136.2" r="0.9" fill="#2a3350"/>
<polygon points="684,150 689.5,141 695,150" fill="#f3d9b5" stroke="#2a3350" stroke-width="1.3" stroke-linejoin="round"/>
<polygon points="687.6,144 689.5,141 691.4,144" fill="#2a3350"/>
<rect x="684" y="150" width="11" height="10.5" fill="#f4b43c" stroke="#2a3350" stroke-width="1.3"/>
<rect x="684" y="160.5" width="11" height="5.2" rx="1" fill="#2aa79b" stroke="#2a3350" stroke-width="1.3"/>
<rect x="715.2" y="147" width="7" height="18.5" rx="3" fill="#f4a74a" stroke="#2a3350" stroke-width="1.4"/>
<rect x="716.4" y="144.5" width="4.6" height="4.5" fill="#e9eef7" stroke="#2a3350" stroke-width="1.2"/>
<circle cx="718" cy="134.4" r="11.2" fill="#f4f7fc" stroke="#2a3350" stroke-width="1.5"/>
<circle cx="718" cy="134.4" r="8.2" fill="#2f8fe0" stroke="#2a3350" stroke-width="1.3"/>
<path d="M719.5,129 Q723.5,130 724,134.5" fill="none" stroke="#e8f3fd" stroke-width="1.4" stroke-linecap="round"/>
</g>
<rect x="637.5" y="265.5" width="134.5" height="75.5" fill="url(#chk)"/>
<g filter="url(#soft)">
<circle cx="697" cy="303.2" r="35.4" fill="#f7f9fd"/>
<circle cx="697" cy="303.2" r="34.2" fill="none" stroke="url(#gRing)" stroke-width="2.6"/>
<circle cx="697" cy="303.2" r="30.0" fill="none" stroke="url(#gRing2)" stroke-width="3.6"/>
<rect x="661" y="300.4" width="7" height="1" fill="#fff"/><rect x="661" y="303.2" width="7" height="1" fill="#fff"/>
<circle cx="697" cy="303.2" r="27.2" fill="url(#gBig)" stroke="#f6f9fe" stroke-width="1.4"/>
<ellipse cx="724.4" cy="283.0" rx="11.2" ry="9.2" fill="url(#gSm)" stroke="#eef3fb" stroke-width="1.2"/>
<ellipse cx="733.3" cy="301.7" rx="11.9" ry="9.6" fill="url(#gSm)" stroke="#eef3fb" stroke-width="1.2"/>
<ellipse cx="728.8" cy="320.4" rx="11.5" ry="9.5" fill="url(#gSm)" stroke="#eef3fb" stroke-width="1.2"/>
<g stroke="#1c1c22" stroke-width="0.95" fill="none"><rect x="717.6" y="278.2" width="13.4" height="9.8"/><path d="M717.6,278.2 L724.3,284.4 L731,278.2 M717.6,288 L722.6,282.8 M731,288 L726,282.8"/></g>
</g>
<path d="M731.2,314.6 L733.2,313.6 Q734.4,314.4 733.8,316.4 L732.2,317.6 Q730.6,320 730.2,322.4 L730.9,324.2 Q729.8,326.4 727.9,326.6 L726.5,325.2 Q726.4,321.4 728.2,318 Q729.6,315.6 731.2,314.6 Z" fill="#0e0e12"/>
<text x="733.2" y="305.3" text-anchor="middle" font-family="Liberation Sans, sans-serif" font-weight="bold" font-size="12" fill="#0e0e12" stroke="#0e0e12" stroke-width="0.75">@</text>
<rect x="397.2" y="329.2" width="146.9" height="132.4" rx="7.5" fill="#b1d6e4"/>
<g filter="url(#soft)">
<circle cx="536" cy="357.5" r="43.8" fill="#1b8cc9"/>
<path d="M537.9,313.8 A43.8,43.8 0 0 1 537.9,401.2 Z" fill="#1072b0"/>
<path d="M506.5,340 L506.5,373.5 A4.6,4.6 0 0 0 515.7,373.5 L515.7,340" fill="none" stroke="#fff" stroke-width="2.4"/>
<rect x="504.0" y="335.4" width="14.2" height="5" rx="1" fill="#fff"/>
<path d="M508.90000000000003,349 L508.90000000000003,372.5 A2.3,2.3 0 0 0 513.4,372.5 L513.4,349 Z" fill="#a9d7f2"/>
<rect x="508.90000000000003" y="349" width="4.5" height="2.3" fill="#5db3e6"/>
<path d="M529.6,340 L529.6,373.5 A4.6,4.6 0 0 0 538.8000000000001,373.5 L538.8000000000001,340" fill="none" stroke="#fff" stroke-width="2.4"/>
<rect x="527.1" y="335.4" width="14.2" height="5" rx="1" fill="#fff"/>
<path d="M532.0,349 L532.0,372.5 A2.3,2.3 0 0 0 536.5,372.5 L536.5,349 Z" fill="#a9d7f2"/>
<rect x="532.0" y="349" width="4.5" height="2.3" fill="#5db3e6"/>
<path d="M552.9,340 L552.9,373.5 A4.6,4.6 0 0 0 562.1,373.5 L562.1,340" fill="none" stroke="#fff" stroke-width="2.4"/>
<rect x="550.4" y="335.4" width="14.2" height="5" rx="1" fill="#fff"/>
<path d="M555.3,349 L555.3,372.5 A2.3,2.3 0 0 0 559.8,372.5 L559.8,349 Z" fill="#a9d7f2"/>
<rect x="555.3" y="349" width="4.5" height="2.3" fill="#5db3e6"/>
</g>
<g filter="url(#soft)">
<path d="M173.4,328.4 C175.1,330.3 179.8,335.2 183.6,339.6 C187.4,344.0 191.3,349.5 196.0,355.0 C200.7,360.5 206.3,367.6 211.5,372.8 C216.7,378.0 221.4,382.7 227.0,386.4 C232.6,390.1 237.2,392.4 245.0,395.2 C252.8,398.0 263.7,400.6 273.6,403.2 C283.5,405.8 296.4,408.6 304.6,410.8 C312.8,413.0 319.6,415.3 322.6,416.2 L322.6,458 L173.4,458 Z" fill="#f2c642"/>
<path d="M173.4,363.0 C176.1,364.0 184.5,366.7 189.8,369.2 C195.1,371.7 200.4,374.9 205.3,378.2 C210.2,381.5 215.2,386.1 219.3,389.0 C223.4,391.9 225.6,393.5 230.0,395.6 C234.4,397.7 238.2,399.4 245.5,401.6 C252.8,403.8 263.8,406.6 273.6,408.6 C283.5,410.6 296.4,412.0 304.6,413.4 C312.8,414.8 319.6,416.4 322.6,417.0 L322.6,458 L173.4,458 Z" fill="#aaa8e8"/>
<path d="M173.4,401.6 C176.1,401.8 184.5,402.0 189.8,402.8 C195.1,403.6 200.3,404.8 205.3,406.4 C210.3,408.0 214.2,410.5 220.0,412.4 C225.8,414.3 233.2,416.2 240.0,417.6 C246.8,419.0 253.6,420.1 260.6,421.0 C267.6,421.9 274.8,422.3 281.9,422.8 C289.0,423.3 296.3,423.6 303.1,423.8 C309.9,424.0 319.4,424.1 322.6,424.2 L322.6,458 L173.4,458 Z" fill="#e9a263"/>
<path d="M173.4,442.6 C177.2,443.0 188.6,443.9 196.0,444.8 C203.4,445.7 209.1,447.1 218.1,448.0 C227.1,448.9 239.4,450.1 250.0,450.4 C260.6,450.7 269.8,450.3 281.9,450.0 C294.0,449.7 315.8,448.7 322.6,448.4 L322.6,458 L173.4,458 Z" fill="#7d92dc"/>
</g>
<g filter="url(#soft)">
<line x1="228.1" y1="392.8" x2="223.6" y2="388.8" stroke="#c8742a" stroke-width="1.3"/>
<ellipse cx="219.8" cy="385.6" rx="5.6" ry="3.2" transform="rotate(-139.0 219.8 385.6)" fill="#f3b880" stroke="#c56a22" stroke-width="1"/>
<ellipse cx="219.8" cy="385.6" rx="3.4" ry="1.3" transform="rotate(-139.0 219.8 385.6)" fill="#fae0c4"/>
<line x1="242.5" y1="383.8" x2="240.9" y2="378.0" stroke="#c8742a" stroke-width="1.3"/>
<ellipse cx="239.6" cy="373.2" rx="5.6" ry="3.2" transform="rotate(-105.0 239.6 373.2)" fill="#f3b880" stroke="#c56a22" stroke-width="1"/>
<ellipse cx="239.6" cy="373.2" rx="3.4" ry="1.3" transform="rotate(-105.0 239.6 373.2)" fill="#fae0c4"/>
<line x1="258.0" y1="383.9" x2="259.6" y2="378.2" stroke="#c8742a" stroke-width="1.3"/>
<ellipse cx="261.0" cy="373.3" rx="5.6" ry="3.2" transform="rotate(-74.0 261.0 373.3)" fill="#f3b880" stroke="#c56a22" stroke-width="1"/>
<ellipse cx="261.0" cy="373.3" rx="3.4" ry="1.3" transform="rotate(-74.0 261.0 373.3)" fill="#fae0c4"/>
<line x1="270.5" y1="391.3" x2="274.7" y2="387.1" stroke="#c8742a" stroke-width="1.3"/>
<ellipse cx="278.3" cy="383.5" rx="5.6" ry="3.2" transform="rotate(-45.0 278.3 383.5)" fill="#f3b880" stroke="#c56a22" stroke-width="1"/>
<ellipse cx="278.3" cy="383.5" rx="3.4" ry="1.3" transform="rotate(-45.0 278.3 383.5)" fill="#fae0c4"/>
<line x1="278.4" y1="406.0" x2="284.3" y2="404.8" stroke="#c8742a" stroke-width="1.3"/>
<ellipse cx="289.2" cy="403.8" rx="5.6" ry="3.2" transform="rotate(-11.5 289.2 403.8)" fill="#f3b880" stroke="#c56a22" stroke-width="1"/>
<ellipse cx="289.2" cy="403.8" rx="3.4" ry="1.3" transform="rotate(-11.5 289.2 403.8)" fill="#fae0c4"/>
<line x1="278.4" y1="417.8" x2="284.2" y2="419.1" stroke="#c8742a" stroke-width="1.3"/>
<ellipse cx="289.1" cy="420.1" rx="5.6" ry="3.2" transform="rotate(12.0 289.1 420.1)" fill="#f3b880" stroke="#c56a22" stroke-width="1"/>
<ellipse cx="289.1" cy="420.1" rx="3.4" ry="1.3" transform="rotate(12.0 289.1 420.1)" fill="#fae0c4"/>
<line x1="272.2" y1="430.4" x2="276.8" y2="434.3" stroke="#c8742a" stroke-width="1.3"/>
<ellipse cx="280.6" cy="437.5" rx="5.6" ry="3.2" transform="rotate(40.0 280.6 437.5)" fill="#f3b880" stroke="#c56a22" stroke-width="1"/>
<ellipse cx="280.6" cy="437.5" rx="3.4" ry="1.3" transform="rotate(40.0 280.6 437.5)" fill="#fae0c4"/>
<line x1="259.4" y1="439.2" x2="261.4" y2="444.9" stroke="#c8742a" stroke-width="1.3"/>
<ellipse cx="263.0" cy="449.6" rx="5.6" ry="3.2" transform="rotate(71.0 263.0 449.6)" fill="#f3b880" stroke="#c56a22" stroke-width="1"/>
<ellipse cx="263.0" cy="449.6" rx="3.4" ry="1.3" transform="rotate(71.0 263.0 449.6)" fill="#fae0c4"/>
<line x1="242.0" y1="439.7" x2="240.4" y2="445.4" stroke="#c8742a" stroke-width="1.3"/>
<ellipse cx="239.0" cy="450.3" rx="5.6" ry="3.2" transform="rotate(106.0 239.0 450.3)" fill="#f3b880" stroke="#c56a22" stroke-width="1"/>
<ellipse cx="239.0" cy="450.3" rx="3.4" ry="1.3" transform="rotate(106.0 239.0 450.3)" fill="#fae0c4"/>
<line x1="228.8" y1="431.6" x2="224.4" y2="435.7" stroke="#c8742a" stroke-width="1.3"/>
<ellipse cx="220.7" cy="439.1" rx="5.6" ry="3.2" transform="rotate(137.0 220.7 439.1)" fill="#f3b880" stroke="#c56a22" stroke-width="1"/>
<ellipse cx="220.7" cy="439.1" rx="3.4" ry="1.3" transform="rotate(137.0 220.7 439.1)" fill="#fae0c4"/>
<line x1="221.8" y1="418.6" x2="216.0" y2="420.0" stroke="#c8742a" stroke-width="1.3"/>
<ellipse cx="211.1" cy="421.1" rx="5.6" ry="3.2" transform="rotate(166.5 211.1 421.1)" fill="#f3b880" stroke="#c56a22" stroke-width="1"/>
<ellipse cx="211.1" cy="421.1" rx="3.4" ry="1.3" transform="rotate(166.5 211.1 421.1)" fill="#fae0c4"/>
<line x1="221.4" y1="406.8" x2="215.5" y2="405.7" stroke="#c8742a" stroke-width="1.3"/>
<ellipse cx="210.6" cy="404.9" rx="5.6" ry="3.2" transform="rotate(-170.0 210.6 404.9)" fill="#f3b880" stroke="#c56a22" stroke-width="1"/>
<ellipse cx="210.6" cy="404.9" rx="3.4" ry="1.3" transform="rotate(-170.0 210.6 404.9)" fill="#fae0c4"/>
<circle cx="250" cy="411.8" r="28" fill="none" stroke="#2b2b6b" stroke-width="2.4"/>
<path d="M235.5,407.0 L236.3,405.3 L237.1,403.9 L237.9,403.2 L238.7,403.4 L239.5,404.4 L240.3,406.1 L241.1,408.2 L241.9,410.4 L242.7,412.3 L243.5,413.6 L244.3,414.0 L245.1,413.7 L245.9,412.5 L246.7,410.9 L247.5,409.1 L248.3,407.6 L249.1,406.6 L249.9,406.4 L250.7,407.1 L251.5,408.6 L252.3,410.6 L253.1,412.8 L253.9,414.9 L254.7,416.4 L255.5,417.2 L256.3,417.1 L257.1,416.2 L257.9,414.8" fill="none" stroke="#6a70a8" stroke-width="1"/>
<path d="M241.0,410.5 L241.8,408.8 L242.6,407.4 L243.4,406.7 L244.2,406.9 L245.0,407.9 L245.8,409.6 L246.6,411.7 L247.4,413.9 L248.2,415.8 L249.0,417.1 L249.8,417.5 L250.6,417.2 L251.4,416.0 L252.2,414.4 L253.0,412.6 L253.8,411.1 L254.6,410.1 L255.4,409.9 L256.2,410.6 L257.0,412.1 L257.8,414.1 L258.6,416.3 L259.4,418.4 L260.2,419.9 L261.0,420.7 L261.8,420.6 L262.6,419.7 L263.4,418.3 L264.2,416.5 L265.0,414.8 L265.8,413.6" fill="none" stroke="#565c98" stroke-width="1"/>
<g transform="translate(226.4,351.0) rotate(180) scale(1.06)"><path d="M-1.1,0 L-1.1,-9 L-6.6,-17.5 M1.1,0 L1.1,-9 L6.6,-17.5" stroke="#2a2f8a" stroke-width="2.0" fill="none"/><path d="M-3.9,-9.6 L-9.2,-17.6 M3.9,-9.6 L9.2,-17.6" stroke="#3a45a8" stroke-width="2.0" fill="none"/></g>
<g transform="translate(254.7,357) scale(0.82 1.0)"><path d="M-1.1,0 L-1.1,-9 L-6.6,-17.5 M1.1,0 L1.1,-9 L6.6,-17.5" stroke="#b89a3a" stroke-width="1.5" fill="none"/><path d="M-3.9,-9.6 L-9.2,-17.6 M3.9,-9.6 L9.2,-17.6" stroke="#8f8f7a" stroke-width="1.5" fill="none"/></g>
<g transform="translate(254.7,351.5) rotate(180) scale(0.82 1.0)"><path d="M-1.1,0 L-1.1,-9 L-6.6,-17.5 M1.1,0 L1.1,-9 L6.6,-17.5" stroke="#b89a3a" stroke-width="1.5" fill="none"/><path d="M-3.9,-9.6 L-9.2,-17.6 M3.9,-9.6 L9.2,-17.6" stroke="#8f8f7a" stroke-width="1.5" fill="none"/></g>
<g transform="translate(295.6,358.8) rotate(-28) translate(0,-5)"><path d="M-1.1,0 L-1.1,-9 L-6.6,-17.5 M1.1,0 L1.1,-9 L6.6,-17.5" stroke="#2a2f8a" stroke-width="2.0" fill="none"/><path d="M-3.9,-9.6 L-9.2,-17.6 M3.9,-9.6 L9.2,-17.6" stroke="#3a45a8" stroke-width="2.0" fill="none"/></g>
<g transform="translate(295.6,358.8) rotate(42) translate(0,-5)"><path d="M-1.1,0 L-1.1,-9 L-6.6,-17.5 M1.1,0 L1.1,-9 L6.6,-17.5" stroke="#2a2f8a" stroke-width="2.0" fill="none"/><path d="M-3.9,-9.6 L-9.2,-17.6 M3.9,-9.6 L9.2,-17.6" stroke="#3a45a8" stroke-width="2.0" fill="none"/></g>
<g transform="translate(295.6,358.8) rotate(112) translate(0,-5)"><path d="M-1.1,0 L-1.1,-9 L-6.6,-17.5 M1.1,0 L1.1,-9 L6.6,-17.5" stroke="#2a2f8a" stroke-width="2.0" fill="none"/><path d="M-3.9,-9.6 L-9.2,-17.6 M3.9,-9.6 L9.2,-17.6" stroke="#3a45a8" stroke-width="2.0" fill="none"/></g>
<g transform="translate(295.6,358.8) rotate(185) translate(0,-5)"><path d="M-1.1,0 L-1.1,-9 L-6.6,-17.5 M1.1,0 L1.1,-9 L6.6,-17.5" stroke="#2a2f8a" stroke-width="2.0" fill="none"/><path d="M-3.9,-9.6 L-9.2,-17.6 M3.9,-9.6 L9.2,-17.6" stroke="#3a45a8" stroke-width="2.0" fill="none"/></g>
<g transform="translate(295.6,358.8) rotate(255) translate(0,-5)"><path d="M-1.1,0 L-1.1,-9 L-6.6,-17.5 M1.1,0 L1.1,-9 L6.6,-17.5" stroke="#2a2f8a" stroke-width="2.0" fill="none"/><path d="M-3.9,-9.6 L-9.2,-17.6 M3.9,-9.6 L9.2,-17.6" stroke="#3a45a8" stroke-width="2.0" fill="none"/></g>
<circle cx="295.6" cy="358.8" r="5" fill="#fff" stroke="#7a80c0" stroke-width="1"/>
</g>
<g font-family="Liberation Sans, sans-serif" font-size="5.6" font-weight="bold" fill="#2c2c5c"><text x="174.5" y="388">IgM</text><text x="174.5" y="423.5">IgA</text><text x="174.5" y="456.5">IgG</text></g>
</svg>
<div class="t" style="left:31.8px;top:43.99px;font-size:18.8px;color:#111;letter-spacing:0.210px;word-spacing:1.499px;">Hồi cứu NVYT và thân</div>
<div class="t" style="left:31.8px;top:66.89px;font-size:18.8px;color:#111;letter-spacing:0.228px;word-spacing:1.308px;">nhân tiêm đủ 2 liều ở BV</div>
<div class="t" style="left:428.2px;top:6.44px;font-size:18.5px;color:#111;letter-spacing:0.173px;word-spacing:2.828px;">Chọn mẫu</div>
<div class="t" style="left:421.4px;top:28.14px;font-size:18.5px;color:#111;letter-spacing:0.130px;word-spacing:1.365px;">ở mỗi nhóm</div>
<div class="t" style="left:629.5px;top:184.75px;font-size:19.2px;color:#1c1c8c;letter-spacing:0.000px;word-spacing:1.771px;">Thu thập thông tin</div>
<div class="t" style="left:647.7px;top:349.65px;font-size:19.2px;color:#1c1c8c;letter-spacing:0.054px;word-spacing:1.003px;">Đặt lịch lấy xn</div>
<div class="t" style="left:152.4px;top:290.82px;font-size:19.0px;color:#1c1c8c;letter-spacing:0.070px;word-spacing:2.510px;">Định lượng kháng thể</div>
<div class="t" style="left:419.0px;top:332.44px;font-size:17.2px;color:#111;letter-spacing:0.000px;word-spacing:0.628px;">30 ngày</div>
<div class="t" style="left:419.0px;top:353.74px;font-size:17.2px;color:#111;letter-spacing:0.000px;word-spacing:0.628px;">90 ngày</div>
<div class="t" style="left:415.0px;top:374.74px;font-size:17.2px;color:#111;letter-spacing:-0.000px;word-spacing:-0.234px;">135 ngày</div>
<div class="t" style="left:415.0px;top:395.04px;font-size:17.2px;color:#111;letter-spacing:-0.000px;word-spacing:-0.234px;">180 ngày</div>
<div class="t" style="left:414.6px;top:416.26px;font-size:18.0px;color:#111;letter-spacing:-0.042px;word-spacing:-0.454px;font-style:italic;">kể từ thời điểm</div>
<div class="t" style="left:414.6px;top:436.86px;font-size:18.0px;color:#111;letter-spacing:-0.042px;word-spacing:-0.459px;font-style:italic;">tiêm liều thứ 2</div>
</body></html>
